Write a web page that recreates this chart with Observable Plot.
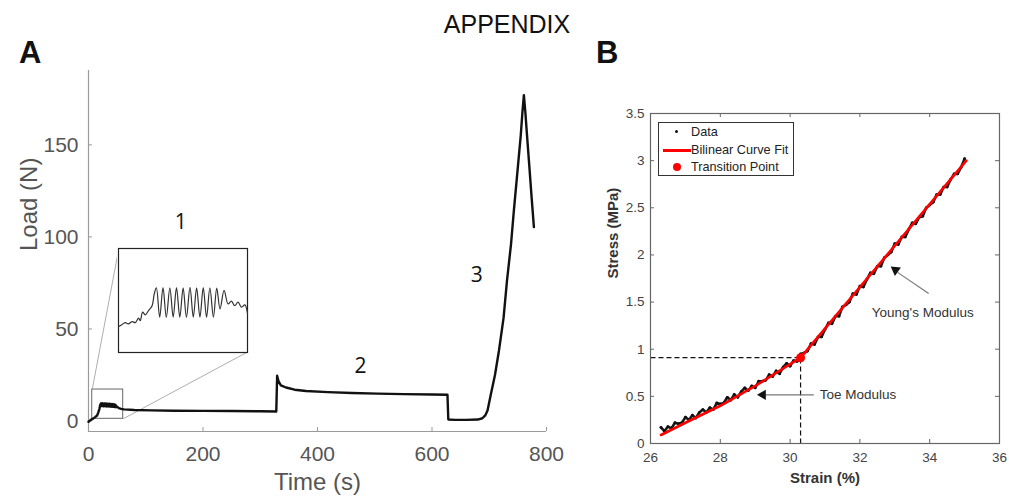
<!DOCTYPE html>
<html><head><meta charset="utf-8">
<script src="https://cdn.jsdelivr.net/npm/d3@7"></script>
<script src="https://cdn.jsdelivr.net/npm/@observablehq/plot@0.6"></script>
<style>
body{margin:0;background:#fff;font-family:"Liberation Sans",Arial,sans-serif;}
#wrap{position:relative;width:1009px;height:500px;overflow:hidden;background:#fff;}
.abs{position:absolute;}
#legend{position:absolute;left:658px;top:122px;width:134px;height:52px;border:1px solid #333;background:#fff;font-size:12.7px;color:#222;}
#legend .row{position:absolute;left:0;width:134px;height:16px;}
#legend .lab{position:absolute;left:32px;top:0;line-height:16px;white-space:nowrap;}
</style></head><body><div id="wrap">
<div class="abs" style="left:0;width:1014px;top:10px;text-align:center;font-size:25px;color:#111">APPENDIX</div>
<div class="abs" style="left:19px;top:35px;font-size:31px;font-weight:bold;color:#111">A</div>
<div class="abs" style="left:596px;top:35px;font-size:31px;font-weight:bold;color:#111">B</div>
<div class="abs" id="panelA" style="left:0;top:60px"></div>
<div class="abs" id="inset" style="left:117px;top:247px"></div>
<div class="abs" id="panelB" style="left:590px;top:90px"></div>
<div id="legend">
  <div class="row" style="top:1px"><span style="position:absolute;left:16px;top:6px;width:3px;height:3px;border-radius:2px;background:#111"></span><span class="lab">Data</span></div>
  <div class="row" style="top:19px"><span style="position:absolute;left:4px;top:7px;width:28px;height:2.5px;background:#f00"></span><span class="lab">Bilinear Curve Fit</span></div>
  <div class="row" style="top:36px"><span style="position:absolute;left:14px;top:4px;width:8px;height:8px;border-radius:4px;background:#f00"></span><span class="lab">Transition Point</span></div>
</div>
</div>
<script>
// ---------- Panel A data ----------
const timeA = [0,4,8,12,15,17,19,20.5,22,23.4,24.8,26.2,27.6,29,30.4,31.8,33.2,34.6,36,37.4,38.8,40.2,41.6,43,44.4,45.8,47.2,48.6,50,53,57,62,80,110,150,200,250,300,328,329.5,332,336,345,360,380,418,460,505,550,600,627,628.5,640,660,680,688,693,697,703,710,717,725,731,738,743,751,755,758,760.5,763,766,770,774,778];
const loadA = [-0.4,0.6,1.3,2.2,3.0,4.5,6.5,8.8,9.6,8.1,9.6,8.0,9.5,8.0,9.5,7.9,9.4,7.9,9.4,7.8,9.3,7.8,9.2,7.7,9.1,7.6,8.8,7.5,7.8,7.0,6.6,6.3,6.0,5.8,5.6,5.5,5.4,5.3,5.2,24.6,21.5,19.4,18.2,17.0,16.3,15.7,15.2,14.9,14.6,14.4,14.3,0.8,0.6,0.6,0.8,1.5,3.0,5.7,14.8,25,38.3,56,76.3,96,114.3,141.5,155,168,177,168,155,138.5,121.5,105.3];
const xTicksA = [0,200,400,600,800];
const yTicksA = [0,50,100,150];
const phaseLabels = ["1","2","3"];
const phaseTime = [161,475,678];
const phaseLoad = [108,30,79];
// zoom box (data units of panel A) and inset corners expressed in panel A units
const zoomBox = {t1: 6.5, t2: 60.6, l1: 1.2, l2: 17.1};
const insetCorner = {t1: 52.9, t2: 277.2, l1: 37.4, l2: 93.5};

// ---------- Inset data ----------
const insetT = [7,8.4,9.8,11.2,12.7,14.1,15.5,16.2,17.2,18.3,19.7,21.2,22.1,23.0,24.4,25.8,27.2,28.7,30.1,31.5,32.9,34.3,35.7,37.2,38.6,40.0,41.4,42.8,44.2,45.6,47.1,48.5,49.9,51.6,53.3,54.7,56.1,57.5,59.0,60.4,61.5];
const insetL = [3.97,4.28,4.6,4.39,4.75,4.6,5.3,4.9,6.2,5.8,6.45,7.2,9.0,9.96,5.42,10.0,5.4,9.95,5.45,10.0,5.42,9.96,5.4,10.02,5.44,9.96,5.42,9.98,5.4,9.96,5.45,9.9,6.7,9.55,7.48,7.9,7.2,7.74,6.97,7.33,6.04];

// ---------- Panel B data ----------
const strainB = [26.3,26.4,26.5,26.6,26.7,26.8,26.9,27.0,27.1,27.2,27.3,27.4,27.5,27.6,27.7,27.8,27.9,28.0,28.1,28.2,28.3,28.4,28.5,28.6,28.7,28.8,28.9,29.0,29.1,29.2,29.3,29.4,29.5,29.6,29.7,29.8,29.9,30.0,30.1,30.2,30.3,30.4,30.5,30.6,30.7,30.8,30.9,31.0,31.1,31.2,31.3,31.4,31.5,31.6,31.7,31.8,31.9,32.0,32.1,32.2,32.3,32.4,32.5,32.6,32.7,32.8,32.9,33.0,33.1,33.2,33.3,33.4,33.5,33.6,33.7,33.8,33.9,34.0,34.1,34.2,34.3,34.4,34.5,34.6,34.7,34.8,34.9,35.0];
const stressB = [0.17,0.13,0.18,0.16,0.22,0.21,0.22,0.28,0.25,0.30,0.27,0.33,0.36,0.33,0.38,0.36,0.43,0.42,0.43,0.49,0.46,0.52,0.49,0.55,0.59,0.56,0.61,0.59,0.66,0.66,0.67,0.73,0.71,0.77,0.74,0.81,0.85,0.82,0.88,0.87,0.95,0.96,0.98,1.06,1.05,1.13,1.13,1.21,1.28,1.27,1.35,1.35,1.45,1.47,1.50,1.59,1.58,1.67,1.66,1.74,1.81,1.80,1.88,1.88,1.97,2.00,2.03,2.12,2.11,2.19,2.19,2.27,2.34,2.33,2.40,2.41,2.50,2.53,2.56,2.64,2.64,2.72,2.72,2.80,2.86,2.86,2.93,3.02];
const fitStrain = [26.3,27,28,29,30.3,35.05];
const fitStress = [0.09,0.22,0.40,0.61,0.91,3.0];
const transition = {strain: 30.3, stress: 0.91};
const xTicksB = [26,28,30,32,34,36];
const yTicksB = [0,0.5,1,1.5,2,2.5,3,3.5];
const noteYoung = {text: "Young's Modulus", strain: 33.8, stress: 1.39};
const noteToe = {text: "Toe Modulus", strain: 30.85, stress: 0.52};
const arrows = [
  {x1: 33.97, y1: 1.59, x2: 33.08, y2: 1.815, hx: 33.02, hy: 1.84, rot: -54},
  {x1: 30.68, y1: 0.516, x2: 29.3, y2: 0.516, hx: 29.22, hy: 0.516, rot: -90}
];

// ---------- Panel A ----------
const FA = "'Liberation Sans', Arial, sans-serif";
const wA = 560, hA = 440, mA = {t: 10, r: 14, b: 69, l: 88};
const pwA = wA - mA.l - mA.r, phA = hA - mA.t - mA.b;
const yDomA = [-5.7, 190.4];
const seriesA = timeA.map((t, i) => ({t, load: loadA[i]}));
const axisGrey = "#9a9a9a";
const plotA = Plot.plot({
  width: wA, height: hA,
  marginTop: mA.t, marginRight: mA.r, marginBottom: mA.b, marginLeft: mA.l,
  x: {domain: [0, 800]},
  y: {domain: yDomA},
  style: {fontFamily: FA, color: "#555", background: "transparent", overflow: "visible"},
  marks: [
    Plot.ruleY([yDomA[0]], {stroke: axisGrey, strokeWidth: 1.2}),
    Plot.ruleX([0], {stroke: axisGrey, strokeWidth: 1.2}),
    Plot.tickX(xTicksA, {x: d => d, insetTop: phA - 4, stroke: axisGrey}),
    Plot.tickY(yTicksA, {y: d => d, insetRight: pwA - 4, stroke: axisGrey}),
    Plot.axisX({ticks: xTicksA, tickSize: 0, tickPadding: 15, fontSize: 21, label: null}),
    Plot.axisY({ticks: yTicksA, tickSize: 0, tickPadding: 10, fontSize: 21, label: null}),
    Plot.rect([zoomBox], {x1: "t1", x2: "t2", y1: "l1", y2: "l2", stroke: "#666", strokeWidth: 1, fill: "none"}),
    Plot.link([zoomBox], {x1: "t1", y1: "l2", x2: () => insetCorner.t1, y2: () => insetCorner.l2, stroke: "#999", strokeWidth: 0.8}),
    Plot.link([zoomBox], {x1: "t2", y1: "l1", x2: () => insetCorner.t2, y2: () => insetCorner.l1, stroke: "#999", strokeWidth: 0.8}),
    Plot.line(seriesA, {x: "t", y: "load", stroke: "#111", strokeWidth: 2.4, strokeLinejoin: "round"}),
    Plot.text(phaseLabels, {x: (d, i) => phaseTime[i], y: (d, i) => phaseLoad[i], text: d => d, fontSize: 21, fill: "#111", fontFamily: "'Open Sans', sans-serif"}),
    Plot.text(["Load (N)"], {text: d => d, frameAnchor: "left", dx: -59, rotate: -90, fontSize: 24, fill: "#555"}),
    Plot.text(["Time (s)"], {text: d => d, frameAnchor: "bottom", dy: 58, fontSize: 24, fill: "#555"})
  ]
});
document.getElementById("panelA").appendChild(plotA);

// ---------- Inset ----------
const insetSeries = insetT.map((t, i) => ({t, load: insetL[i]}));
const plotInset = Plot.plot({
  width: 131, height: 106, margin: 1,
  x: {domain: [7, 61.5], axis: null},
  y: {domain: [0, 16], axis: null},
  style: {background: "#fff", overflow: "visible"},
  marks: [
    Plot.frame({stroke: "#222", strokeWidth: 1.2}),
    Plot.line(insetSeries, {x: "t", y: "load", stroke: "#333", strokeWidth: 1.2, curve: "catmull-rom"})
  ]
});
document.getElementById("inset").appendChild(plotInset);

// ---------- Panel B ----------
const wB = 419, hB = 410, mB = {t: 23, r: 10, b: 57, l: 60};
const pwB = wB - mB.l - mB.r, phB = hB - mB.t - mB.b;
const dataB = strainB.map((s, i) => ({strain: s, stress: stressB[i]}));
const fitB = fitStrain.map((s, i) => ({strain: s, stress: fitStress[i]}));
const frameGrey = "#666";
const plotB = Plot.plot({
  width: wB, height: hB,
  marginTop: mB.t, marginRight: mB.r, marginBottom: mB.b, marginLeft: mB.l,
  x: {domain: [26, 36]},
  y: {domain: [0, 3.5]},
  style: {fontFamily: FA, color: "#444", background: "transparent", overflow: "visible"},
  marks: [
    Plot.tickX(xTicksB, {x: d => d, insetTop: phB - 4, stroke: frameGrey}),
    Plot.tickX(xTicksB, {x: d => d, insetBottom: phB - 4, stroke: frameGrey}),
    Plot.tickY(yTicksB, {y: d => d, insetRight: pwB - 4, stroke: frameGrey}),
    Plot.tickY(yTicksB, {y: d => d, insetLeft: pwB - 4, stroke: frameGrey}),
    Plot.axisX({ticks: xTicksB, tickSize: 0, tickPadding: 9, fontSize: 13.5, tickFormat: d => String(d), label: null}),
    Plot.axisY({ticks: yTicksB, tickSize: 0, tickPadding: 6, fontSize: 13.5, tickFormat: d => String(d), label: null}),
    Plot.link([transition], {x1: () => 26, y1: "stress", x2: "strain", y2: "stress", stroke: "#111", strokeWidth: 1.2, strokeDasharray: "5,3"}),
    Plot.link([transition], {x1: "strain", y1: () => 0, x2: "strain", y2: "stress", stroke: "#111", strokeWidth: 1.2, strokeDasharray: "5,3"}),
    Plot.line(dataB, {x: "strain", y: "stress", stroke: "#1a1a1a", strokeWidth: 2.6}),
    Plot.dot(dataB, {x: "strain", y: "stress", r: 1.4, fill: "#111"}),
    Plot.line(fitB, {x: "strain", y: "stress", stroke: "#ff0000", strokeWidth: 2.6}),
    Plot.dot([transition], {x: "strain", y: "stress", r: 4.5, fill: "#ff0000"}),
    Plot.link(arrows, {x1: "x1", y1: "y1", x2: "x2", y2: "y2", stroke: "#777", strokeWidth: 1.2}),
    Plot.dot(arrows, {x: "hx", y: "hy", symbol: "triangle", r: 3.8, fill: "#111", rotate: "rot"}),
    Plot.text([noteYoung], {x: "strain", y: "stress", text: "text", textAnchor: "middle", fontSize: 13.5, fill: "#333"}),
    Plot.text([noteToe], {x: "strain", y: "stress", text: "text", textAnchor: "start", fontSize: 13.5, fill: "#333"}),
    Plot.text(["Strain (%)"], {text: d => d, frameAnchor: "bottom", dy: 39, fontSize: 15, fontWeight: "bold", fill: "#333"}),
    Plot.text(["Stress (MPa)"], {text: d => d, frameAnchor: "left", dx: -37, rotate: -90, fontSize: 15, fontWeight: "bold", fill: "#333"}),
    Plot.frame({stroke: frameGrey, strokeWidth: 1.2})
  ]
});
document.getElementById("panelB").appendChild(plotB);
</script>
</body></html>
